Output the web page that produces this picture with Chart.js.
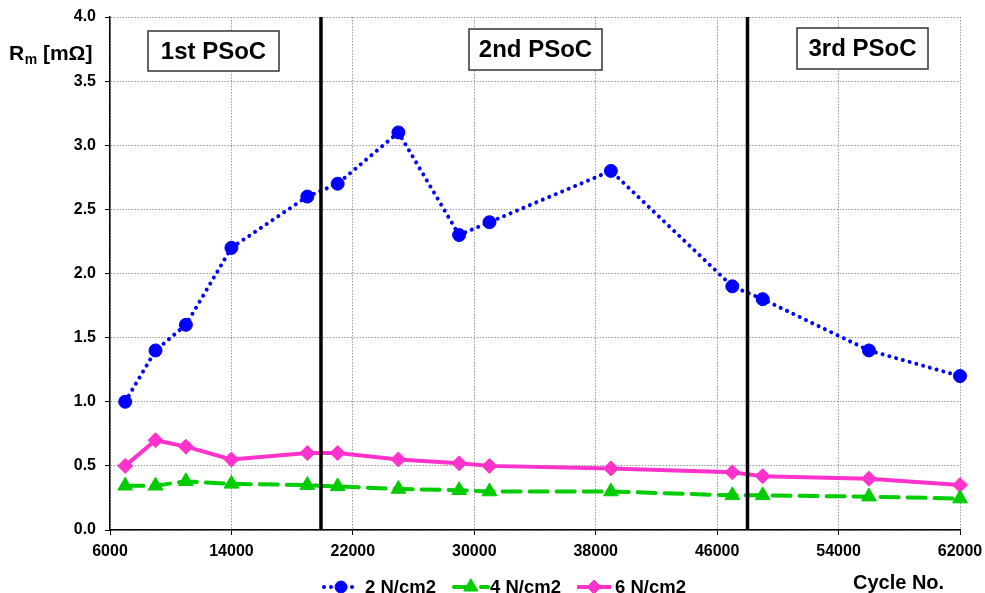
<!DOCTYPE html>
<html><head><meta charset="utf-8">
<script src="https://cdn.jsdelivr.net/npm/chart.js@4"></script>
<style>html,body{margin:0;padding:0;background:#fff;} #wrap{width:985px;height:593px;position:relative;}</style>
</head><body><div id="wrap"><canvas id="c" width="985" height="593"></canvas></div>
<script>
const cycles = [7000, 9000, 11000, 14000, 19000, 21000, 25000, 29000, 31000, 39000, 47000, 49000, 56000, 62000];
const rm2 = [1.0, 1.4, 1.6, 2.2, 2.6, 2.7, 3.1, 2.3, 2.4, 2.8, 1.9, 1.8, 1.4, 1.2];
const rm4 = [0.345, 0.345, 0.38, 0.36, 0.35, 0.34, 0.32, 0.31, 0.30, 0.30, 0.27, 0.27, 0.26, 0.245];
const rm6 = [0.50, 0.70, 0.65, 0.55, 0.60, 0.60, 0.55, 0.52, 0.50, 0.48, 0.45, 0.42, 0.40, 0.35];
const seriesNames = ['2 N/cm2', '4 N/cm2', '6 N/cm2'];
const phaseBounds = [19900, 48000];
const phaseLabels = ['1st PSoC', '2nd PSoC', '3rd PSoC'];
const xAxisTitle = 'Cycle No.';
const yAxisTitle = ['R', 'm', ' [mΩ]'];

const FONT = "'Liberation Sans', Arial, sans-serif";
const BLUE = '#0000ff', GREEN = '#00cc00', PINK = '#ff33cc';

const toXY = (ys) => cycles.map((x, i) => ({x: x, y: ys[i]}));

const seriesStyles = [
  {color: BLUE, dash: [0.01, 7], width: 4, cap: 'round', pointStyle: 'circle', radius: 6.5},
  {color: GREEN, dash: [18, 9], width: 4, cap: 'round', pointStyle: 'triangle', radius: 8.5},
  {color: PINK, dash: [], width: 4, cap: 'butt', pointStyle: 'rectRot', radius: 7.5}
];
const seriesData = [rm2, rm4, rm6];

const datasets = seriesData.map((ys, i) => ({
  label: seriesNames[i],
  data: toXY(ys),
  borderColor: seriesStyles[i].color,
  backgroundColor: seriesStyles[i].color,
  borderWidth: seriesStyles[i].width,
  borderDash: seriesStyles[i].dash,
  borderCapStyle: seriesStyles[i].cap,
  pointStyle: seriesStyles[i].pointStyle,
  pointRadius: seriesStyles[i].radius,
  pointBorderWidth: 1,
  pointBackgroundColor: seriesStyles[i].color,
  pointBorderColor: seriesStyles[i].color,
  tension: 0,
  clip: false,
  order: 2 + i
}));
phaseBounds.forEach((b) => {
  datasets.push({
    label: '_phase',
    data: [{x: b, y: 0}, {x: b, y: 4}],
    borderColor: '#000',
    borderWidth: 3.5,
    pointRadius: 0,
    order: 0
  });
});

const overlay = {
  id: 'overlay',
  afterDraw(chart) {
    const ctx = chart.ctx;
    ctx.save();
    const boxes = [[148, 31, 131, 40], [469, 29, 133, 41], [797, 28, 131, 41]];
    ctx.font = 'bold 24px ' + FONT;
    ctx.textAlign = 'center';
    ctx.textBaseline = 'middle';
    boxes.forEach((b, i) => {
      ctx.fillStyle = '#fff';
      ctx.fillRect(b[0], b[1], b[2], b[3]);
      ctx.strokeStyle = '#333';
      ctx.lineWidth = 1.5;
      ctx.strokeRect(b[0], b[1], b[2], b[3]);
      ctx.fillStyle = '#000';
      ctx.fillText(phaseLabels[i], b[0] + b[2] / 2, b[1] + b[3] / 2 + 1);
    });
    ctx.textAlign = 'left';
    ctx.textBaseline = 'alphabetic';
    ctx.font = 'bold 21px ' + FONT;
    let x = 9;
    ctx.fillText(yAxisTitle[0], x, 60);
    x += ctx.measureText(yAxisTitle[0]).width;
    ctx.font = 'bold 14px ' + FONT;
    ctx.fillText(yAxisTitle[1], x + 0.5, 64);
    x += ctx.measureText(yAxisTitle[1]).width + 0.5;
    ctx.font = 'bold 21px ' + FONT;
    ctx.fillText(yAxisTitle[2], x, 60);
    ctx.font = 'bold 20px ' + FONT;
    ctx.fillText(xAxisTitle, 853, 589);
    const lineStarts = [324, 454, 577];
    const textStarts = [365, 490, 615];
    const ly = 587;
    seriesStyles.forEach((s, i) => {
      const x0 = lineStarts[i], x1 = x0 + 34;
      ctx.beginPath();
      ctx.setLineDash(s.dash);
      ctx.lineCap = s.cap;
      ctx.strokeStyle = s.color;
      ctx.lineWidth = s.width;
      ctx.moveTo(x0, ly);
      ctx.lineTo(x1, ly);
      ctx.stroke();
      ctx.setLineDash([]);
      ctx.fillStyle = s.color;
      ctx.strokeStyle = s.color;
      ctx.lineWidth = 1;
      Chart.helpers.drawPoint(ctx, {pointStyle: s.pointStyle, radius: s.radius - 0.5, rotation: 0, borderWidth: 1}, (x0 + x1) / 2, ly);
      ctx.fillStyle = '#000';
      ctx.font = 'bold 18.5px ' + FONT;
      ctx.textBaseline = 'middle';
      ctx.fillText(seriesNames[i], textStarts[i], ly + 1);
    });
    ctx.restore();
  }
};

new Chart(document.getElementById('c'), {
  type: 'line',
  data: {datasets: datasets},
  options: {
    responsive: false,
    animation: false,
    devicePixelRatio: 1,
    layout: {padding: {left: 0, right: 25, top: 17, bottom: 0}},
    plugins: {legend: {display: false}, tooltip: {enabled: false}},
    scales: {
      x: {
        type: 'linear',
        min: 6000, max: 62000,
        afterFit: (s) => { s.height = 63; s.paddingLeft = 0; s.paddingRight = 0; },
        ticks: {stepSize: 8000, color: '#000', font: {family: FONT, size: 16, weight: 'bold'}, padding: 7, maxRotation: 0,
          callback: (v) => String(v)},
        grid: {color: '#999', lineWidth: 1, tickLength: 5, tickColor: '#000', tickBorderDash: [], drawTicks: true},
        border: {color: '#000', width: 1.5, dash: [1.5, 1.5]}
      },
      y: {
        min: 0, max: 4,
        afterFit: (s) => { s.width = 110; s.paddingTop = 0; s.paddingBottom = 0; },
        ticks: {stepSize: 0.5, color: '#000', font: {family: FONT, size: 16, weight: 'bold'}, padding: 9,
          callback: (v) => Number(v).toFixed(1)},
        grid: {color: '#999', lineWidth: 1, tickLength: 5, tickColor: '#000', tickBorderDash: []},
        border: {color: '#000', width: 1.5, dash: [1.5, 1.5]}
      }
    }
  },
  plugins: [overlay]
});
</script></body></html>
